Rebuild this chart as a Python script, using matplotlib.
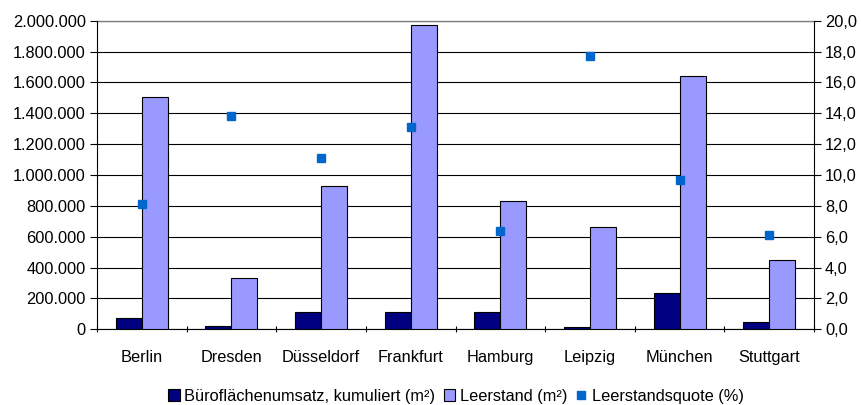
import numpy as np
import matplotlib.pyplot as plt
from matplotlib.ticker import FuncFormatter, FixedLocator

plt.rcParams['font.family'] = ['Liberation Sans', 'DejaVu Sans']

staedte = ["Berlin", "Dresden", "Düsseldorf", "Frankfurt", "Hamburg", "Leipzig", "München", "Stuttgart"]
umsatz = [72000, 22000, 112000, 112000, 112000, 15000, 235000, 45000]
leerstand = [1505000, 334000, 929000, 1975000, 830000, 665000, 1642000, 447000]
quote = [8.1, 13.8, 11.1, 13.1, 6.4, 17.7, 9.7, 6.1]

fs = 11.8

fig = plt.figure(figsize=(8.61, 4.05), dpi=100)
ax = fig.add_axes([97 / 861, 1 - 329.3 / 405, (814 - 97) / 861, (329.3 - 20.7) / 405])
ax2 = ax.twinx()

x = np.arange(len(staedte))
w = 0.29
b1 = ax.bar(x - w / 2, umsatz, w, color="#000080", edgecolor="black", linewidth=0.8, zorder=3,
            label="Büroflächenumsatz, kumuliert (m²)")
b2 = ax.bar(x + w / 2, leerstand, w, color="#9999FF", edgecolor="black", linewidth=0.8, zorder=3,
            label="Leerstand (m²)")
p, = ax2.plot(x, quote, linestyle="none", marker="s", markersize=5.5, color="#0066CC",
              label="Leerstandsquote (%)")

ax.set_xlim(-0.5, len(staedte) - 0.5)
ax.set_ylim(0, 2000000)
ax2.set_ylim(0, 20)
ax.set_yticks(np.arange(0, 2000001, 200000))
ax2.set_yticks(np.arange(0, 20.1, 2))
ax.yaxis.set_major_formatter(FuncFormatter(lambda v, pos: f"{int(v):,}".replace(",", ".")))
ax2.yaxis.set_major_formatter(FuncFormatter(lambda v, pos: f"{v:.1f}".replace(".", ",")))

ax.grid(axis="y", color="black", linewidth=0.8, zorder=0)
ax.set_axisbelow(True)

# Kategorien mittig, Teilstriche zwischen den Gruppen
ax.set_xticks(x)
ax.set_xticklabels(staedte)
ax.tick_params(axis="x", which="major", length=0, pad=15, labelsize=fs)
ax.xaxis.set_minor_locator(FixedLocator(np.arange(-0.5, len(staedte), 1.0)))
ax.tick_params(axis="x", which="minor", length=5, width=0.8, direction="inout")
ax.tick_params(axis="y", length=5, width=0.8, labelsize=fs, pad=3)
ax2.tick_params(axis="y", length=5, width=0.8, labelsize=fs, pad=3)

for a in (ax, ax2):
    a.spines["top"].set_visible(False)
    for s in ("left", "right", "bottom"):
        a.spines[s].set_linewidth(0.8)
ax.spines["right"].set_visible(False)
ax2.spines["left"].set_visible(False)
ax2.spines["bottom"].set_visible(False)
ax.plot([0, 1], [1, 1], transform=ax.transAxes, color="#808080", linewidth=1.0, clip_on=False, zorder=1)

fig.legend(handles=[b1, b2, p], loc="center", bbox_to_anchor=(456 / 861, 1 - 396 / 405), ncol=3,
           frameon=False, fontsize=fs, handlelength=0.7, handleheight=0.7, handletextpad=0.3,
           columnspacing=0.5)

fig.savefig("out.png", dpi=100)
